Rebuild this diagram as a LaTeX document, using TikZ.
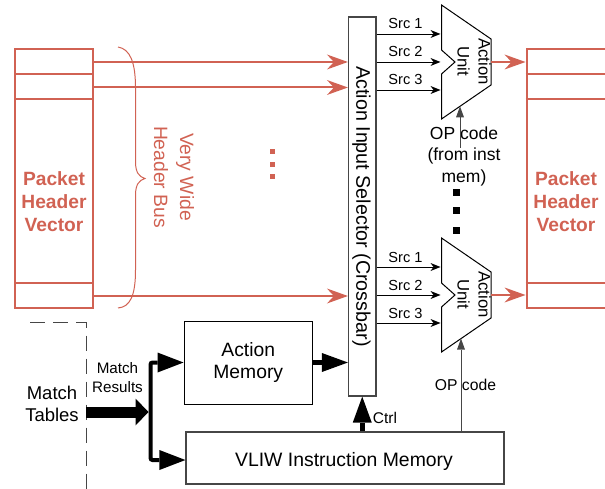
\documentclass[tikz,border=0pt]{standalone}
\usepackage{fontspec}
\setmainfont{Liberation Sans}
\usetikzlibrary{arrows.meta}
\definecolor{phvred}{RGB}{209,98,83}
\definecolor{boxgray}{RGB}{70,70,70}
\newcommand{\myfs}[2]{\fontsize{#1pt}{#2pt}\selectfont}
\begin{document}
\begin{tikzpicture}[x=1pt,y=-1pt,
 every node/.style={inner sep=0pt},
 txt/.style={align=center},
 phvbox/.style={draw=phvred,line width=2pt},
 redarrow/.style={draw=phvred,line width=2pt,-{Stealth[length=21pt,width=15pt,inset=7pt,line width=0pt]}},
 srcarrow/.style={draw=black,line width=0.8pt,-{Stealth[length=10pt,width=8pt,inset=3pt,line width=0pt]}},
 oparrow/.style={draw=boxgray,line width=0.9pt,-{Triangle[length=11pt,width=8pt,line width=0pt]}},
 thickarrow/.style={draw=black,line width=5.5pt,-{Triangle[length=26pt,width=19pt,line width=0pt]}},
 branch/.style={draw=black,line width=4pt,rounded corners=2pt,{Triangle[length=26pt,width=20pt,line width=0pt]}-{Triangle[length=26pt,width=20pt,line width=0pt]}},
 bigarrow/.style={draw=black,line width=11pt,-{Triangle[length=13pt,width=27pt,line width=0pt]}},
 blkbox/.style={draw=boxgray,line width=1.2pt},
 aubox/.style={draw=black,line width=1pt,line join=miter},
 dashline/.style={draw=boxgray,line width=1pt,dash pattern=on 15pt off 8pt},
]
\useasboundingbox (0,0) rectangle (605,489);
\clip (0,0) rectangle (605,489);

% Packet header vectors
\node[phvbox, minimum width=78pt, minimum height=258.5pt] (phvL) at (54,178.75) {};
\node[phvbox, minimum width=114pt, minimum height=258.5pt] (phvR) at (583.5,178.75) {};
\foreach \yy in {74.5,99,283}{
  \draw[phvbox] (phvL.west |- 0,\yy) -- (phvL.east |- 0,\yy);
  \draw[phvbox] (phvR.west |- 0,\yy) -- (phvR.east |- 0,\yy);
}
\node[txt,text=phvred,font={\bfseries\myfs{19.2}{23}}] (phvLt) at (54,202) {Packet\\Header\\Vector};
\node[txt,text=phvred,font={\bfseries\myfs{19.2}{23}}] (phvRt) at (566,202) {Packet\\Header\\Vector};

% brace and bus label
\draw[phvred, line width=1pt] (118,47) .. controls (130,49) and (135.5,62) .. (135.5,88) -- (135.5,162) .. controls (135.5,172) and (139,177) .. (145,178.5) .. controls (139,180) and (135.5,185) .. (135.5,195) -- (135.5,270) .. controls (135.5,296) and (130,307) .. (118,308);
\node[txt,text=phvred,rotate=-90,font={\myfs{19.3}{26}}] (bus) at (174,177) {Very Wide\\Header Bus};
\foreach \yy in {151.5,164.5,177}{
  \fill[phvred] (269.5,\yy-2.5) rectangle (274.5,\yy+2.5);
}

% crossbar
\node[blkbox, minimum width=27.5pt, minimum height=379pt] (xbar) at (362.25,206.5) {};
\node[rotate=-90,font={\myfs{19.7}{23}}] (xbart) at (361.5,206.5) {Action Input Selector (Crossbar)};

\draw[redarrow] (phvL.east |- 0,62) -- (xbar.west |- 0,62);
\draw[redarrow] (phvL.east |- 0,87.5) -- (xbar.west |- 0,87.5);
\draw[redarrow] (phvL.east |- 0,296) -- (xbar.west |- 0,296);

% action units
\foreach \i/\d in {1/0,2/233}{
  \coordinate (au\i-s1) at (440.5,34+\d);
  \coordinate (au\i-s2) at (440.5,62+\d);
  \coordinate (au\i-s3) at (440.5,90+\d);
  \coordinate (au\i-out) at (491,62+\d);
  \draw[aubox] (441.5,5+\d) -- (491,39+\d) -- (491,85+\d) -- (441.5,119+\d) -- (441.5,74+\d) -- (455,62+\d) -- (441.5,50+\d) -- cycle;
  \node[txt,rotate=-90,font={\myfs{16.7}{21}}] (aut\i) at (474,61.5+\d) {Action\\Unit};
  \foreach \k/\yy in {1/34,2/62,3/90}{
    \draw[srcarrow] (xbar.east |- au\i-s\k) -- (au\i-s\k);
    \node[font={\myfs{14.6}{17}},anchor=base] (src\i-\k) at (405.5,\yy-5+\d) {Src \k};
  }
  \draw[redarrow] (au\i-out) -- (phvR.west |- au\i-out);
}
\coordinate (au1-op) at (460,106.3);
\coordinate (au2-op) at (461,338.6);

% op code 1
\node[txt,font={\myfs{17.5}{21.5}}] (op1) at (464,156) {OP code\\(from inst\\mem)};
\coordinate (op1s) at (460,148);
\draw[oparrow] (op1s) -- (au1-op);

\foreach \yy in {192.5,211,230.5}{
  \fill[black] (453,\yy-3.5) rectangle (460,\yy+3.5);
}

% memories
\node[draw=black,line width=1pt,txt,minimum width=128.5pt,minimum height=83pt,font={\myfs{19.3}{22}}] (am) at (248.25,362.5) {Action\\Memory};
\node[blkbox,minimum width=318pt,minimum height=52pt] (vliw) at (345,458) {};
\node[font={\myfs{19.4}{23}},anchor=base] (vliwt) at (344,466) {VLIW Instruction Memory};

\node[font={\myfs{15.7}{19}},anchor=base] (op2) at (465.5,390) {OP code};
\draw[oparrow] (vliw.north -| au2-op) -- (au2-op);

\node[font={\myfs{15.5}{18}},anchor=base] (ctrl) at (385,423) {Ctrl};
\draw[thickarrow] (vliw.north -| xbar.south) -- (xbar.south);
\draw[thickarrow] (am.east) -- (am.east -| xbar.west);

% match tables
\draw[dashline] (30,322.5) -- (86,322.5) -- (86,495);
\node[txt,font={\myfs{18.5}{22.5}}] (mt) at (52,404) {Match\\Tables};
\node[txt,font={\myfs{15.2}{19}}] (mr) at (117.5,378) {Match\\Results};
\coordinate (mtout) at (86,412);
\coordinate (brin) at (148.5,412);
\draw[bigarrow] (mtout) -- (brin);
\draw[branch] (am.west) -- (150.5,362.5) -- (150.5,460) -- (vliw.west |- 0,460);
\end{tikzpicture}
\end{document}
